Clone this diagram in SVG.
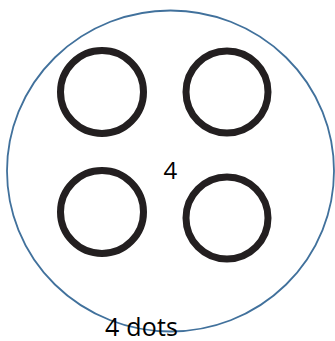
<svg xmlns="http://www.w3.org/2000/svg" width="335" height="341" viewBox="0 0 335 341">
<style>
.ring{fill:none;stroke:#231f20;stroke-width:7}
.lbl{font-family:"Open Sans","Liberation Sans",sans-serif;fill:#000}
</style>
<rect width="335" height="341" fill="#fff"/>
<g id="outer"><ellipse cx="170.5" cy="171" rx="163.5" ry="160.5" fill="none" stroke="#41719c" stroke-width="1.8"/></g>
<g id="dot1"><circle class="ring" cx="102" cy="92" r="41.5"/></g>
<g id="dot2"><circle class="ring" cx="227" cy="92" r="41"/></g>
<g id="dot3"><circle class="ring" cx="102" cy="212" r="41.5"/></g>
<g id="dot4"><circle class="ring" cx="227" cy="218" r="41"/></g>
<g id="connectors"></g>
<text class="lbl" x="163.5" y="179" font-size="24">4</text>
<text class="lbl" x="105" y="335.5" font-size="25" textLength="73">4 dots</text>
</svg>
